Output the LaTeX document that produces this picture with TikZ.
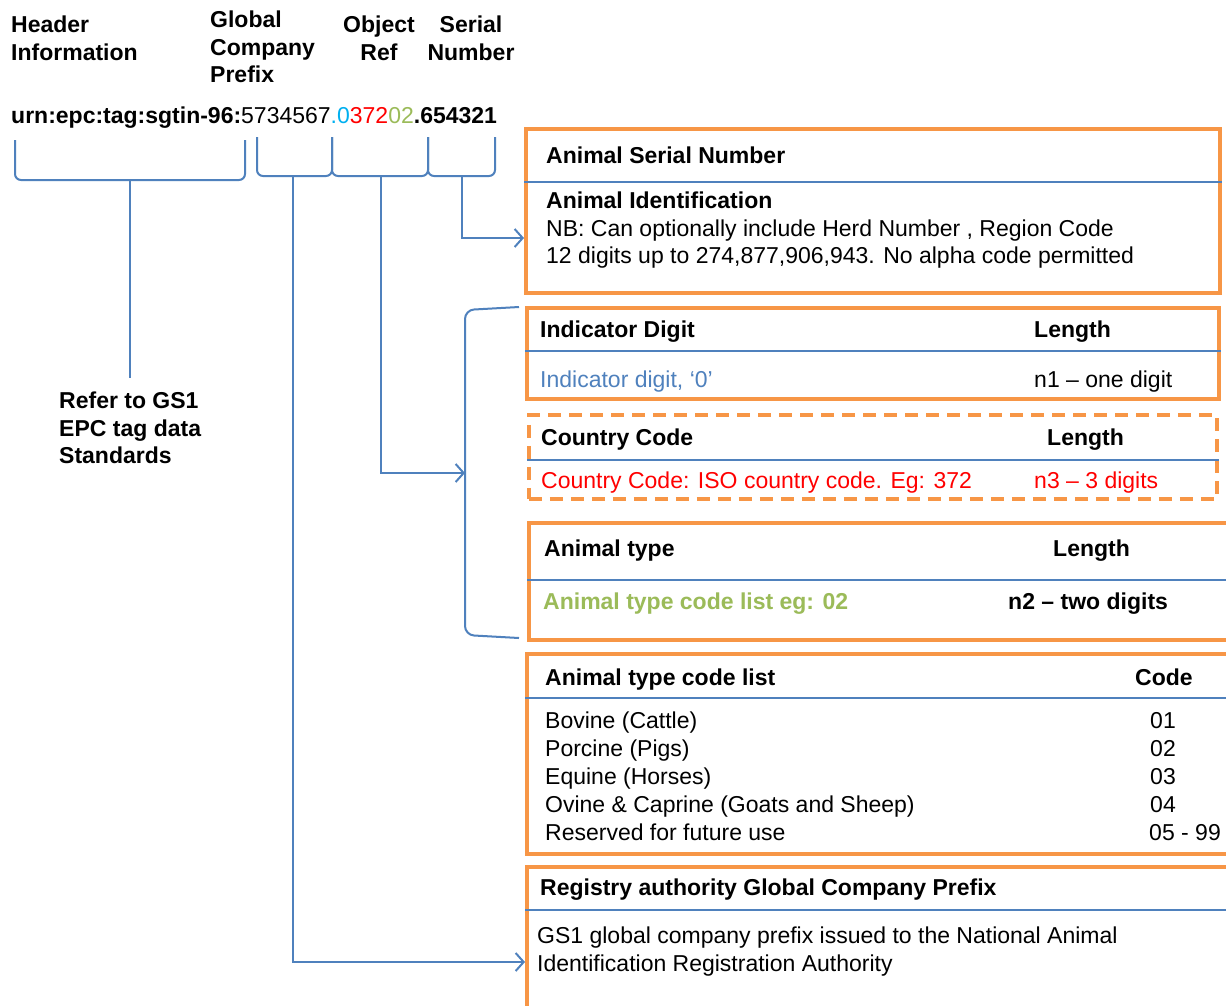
\documentclass[tikz,border=0pt]{standalone}
\usepackage{fontspec}
\setmainfont{Liberation Sans}
\usetikzlibrary{arrows.meta}
\definecolor{boxorange}{HTML}{F79646}
\definecolor{lineblue}{HTML}{4F81BD}
\definecolor{txtblue}{HTML}{4F81BD}
\definecolor{txtcyan}{HTML}{00B0F0}
\definecolor{txtred}{HTML}{FF0000}
\definecolor{txtgreen}{HTML}{9BBB59}
\tikzset{
  txt/.style={inner sep=0pt, anchor=base west, font=\fontsize{23}{28}\selectfont},
  btxt/.style={txt, font=\fontsize{23}{28}\selectfont\bfseries},
  ctxt/.style={inner sep=0pt, anchor=base, font=\fontsize{23}{28}\selectfont\bfseries},
  obox/.style={draw=boxorange, line width=4pt, inner sep=0pt, anchor=north west},
  dbox/.style={obox, line width=3.5pt, dash pattern=on 13pt off 8pt},
  divider/.style={draw=lineblue, line width=2pt},
  brace/.style={draw=lineblue, line width=2pt, rounded corners=6pt},
  conn/.style={draw=lineblue, line width=2pt, -{Straight Barb[length=8pt,width=18pt,line width=2pt]}},
  stem/.style={draw=lineblue, line width=2.5pt},
}
\begin{document}
\begin{tikzpicture}[x=1pt,y=-1pt]
\clip (0,0) rectangle (1226,1005);
\fill[white] (0,0) rectangle (1226,1005);

% top labels
\node[btxt] (h1) at (11,32) {Header};
\node[btxt] (h2) at (11,60) {Information};
\node[btxt] (g1) at (210,27) {Global};
\node[btxt] (g2) at (210,55) {Company};
\node[btxt] (g3) at (210,82) {Prefix};
\node[ctxt] (o1) at (379,32) {Object};
\node[ctxt] (o2) at (379,60) {Ref};
\node[ctxt] (s1) at (471,32) {Serial};
\node[ctxt] (s2) at (471,60) {Number};

% main string
\node[btxt] (urn) at (11,123) {urn:epc:tag:sgtin-96:\mdseries 5734567\textcolor{txtcyan}{.0}\textcolor{txtred}{372}\textcolor{txtgreen}{02}\bfseries .654321};

% braces under the string
\draw[brace] (15,140) -- (15,180) -- (245,180) -- (245,140);
\draw[brace] (257,137) -- (257,176) -- (332,176) -- (332,137);
\draw[brace] (332,137) -- (332,176) -- (428,176) -- (428,137);
\draw[brace] (428,137) -- (428,176) -- (495,176) -- (495,137);
\coordinate (st1) at (130,180);
\coordinate (st2) at (293,176);
\coordinate (st3) at (381,176);
\coordinate (st4) at (462,176);

% refer text
\node[btxt] (r1) at (59,408) {Refer to GS1};
\node[btxt] (r2) at (59,436) {EPC tag data};
\node[btxt] (r3) at (59,463) {Standards};
\coordinate (r1top) at (130,378);
\draw[stem] (st1) -- (r1top);

% boxes
\node[obox, minimum width=694pt, minimum height=164pt] (b1) at (524,127) {};
\node[obox, minimum width=692pt, minimum height=91pt] (b2) at (525,306) {};
\node[dbox, minimum width=688pt, minimum height=84pt] (b3) at (527,413) {};
\node[obox, minimum width=699pt, minimum height=117pt] (b4) at (527,521) {};
\node[obox, minimum width=701pt, minimum height=200pt] (b5) at (525,652) {};
\node[obox, minimum width=701pt, minimum height=160pt] (b6) at (525,865) {};

% dividers
\draw[divider] (b1.west |- 0,182) -- (b1.east |- 0,182);
\draw[divider] (b2.west |- 0,351) -- (b2.east |- 0,351);
\draw[divider] (b3.west |- 0,460) -- (b3.east |- 0,460);
\draw[divider] (b4.west |- 0,580) -- (b4.east |- 0,580);
\draw[divider] (b5.west |- 0,698) -- (b5.east |- 0,698);
\draw[divider] (b6.west |- 0,910) -- (b6.east |- 0,910);

% box 1 text
\node[btxt] (t1a) at (546,163) {Animal Serial Number};
\node[btxt] (t1b) at (546,208) {Animal Identification};
\node[txt] (t1c) at (546,236) {NB: Can optionally include Herd Number , Region Code};
\node[txt] (t1d) at (546,263) {12 digits up to 274,877,906,943. No alpha code permitted};

% box 2 text
\node[btxt] (t2a) at (540,337) {Indicator Digit};
\node[btxt] (t2b) at (1034,337) {Length};
\node[txt, text=txtblue] (t2c) at (540,387) {Indicator digit, ‘0’};
\node[txt] (t2d) at (1034,387) {n1 – one digit};

% box 3 text
\node[btxt] (t3a) at (541,445) {Country Code};
\node[btxt] (t3b) at (1047,445) {Length};
\node[txt, text=txtred] (t3c) at (541,488) {Country Code: ISO country code. Eg: 372};
\node[txt, text=txtred] (t3d) at (1034,488) {n3 – 3 digits};

% box 4 text
\node[btxt] (t4a) at (544,556) {Animal type};
\node[btxt] (t4b) at (1053,556) {Length};
\node[btxt, text=txtgreen] (t4c) at (543,609) {Animal type code list eg: 02};
\node[btxt] (t4d) at (1008,609) {n2 – two digits};

% box 5 text
\node[btxt] (t5a) at (545,685) {Animal type code list};
\node[btxt] (t5b) at (1135,685) {Code};
\node[txt] (i1) at (545,728) {Bovine (Cattle)};
\node[txt] (i2) at (545,756) {Porcine (Pigs)};
\node[txt] (i3) at (545,784) {Equine (Horses)};
\node[txt] (i4) at (545,812) {Ovine \& Caprine (Goats and Sheep)};
\node[txt] (i5) at (545,840) {Reserved for future use};
\node[txt] (c1) at (1150,728) {01};
\node[txt] (c2) at (1150,756) {02};
\node[txt] (c3) at (1150,784) {03};
\node[txt] (c4) at (1150,812) {04};
\node[txt] (c5) at (1149,840) {05 - 99};

% box 6 text
\node[btxt] (t6a) at (540,895) {Registry authority Global Company Prefix};
\node[txt] (t6b) at (537,943) {GS1 global company prefix issued to the National Animal};
\node[txt] (t6c) at (537,971) {Identification Registration Authority};

% left bracket grouping boxes 2-4
\coordinate (lbt) at (519,307);
\coordinate (lbb) at (519,638);
\draw[brace, rounded corners=9pt] (lbt) -- (465,310) -- (465,635) -- (lbb);
\coordinate (lbm) at (465,473);

% connectors
\draw[conn] (st4) |- (b1.west |- 0,238);
\draw[conn] (st3) |- (lbm);
\draw[conn] (st2) |- (b6.west |- 0,962);
\end{tikzpicture}
\end{document}
